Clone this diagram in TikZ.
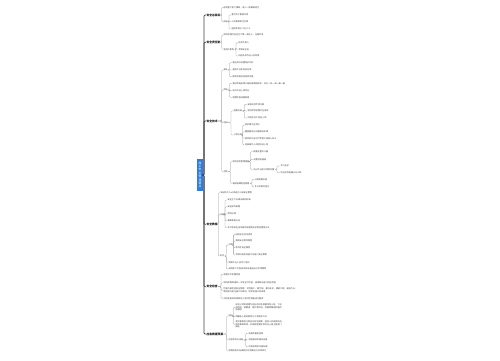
\documentclass[tikz,border=0pt]{standalone}
\usepackage{fontspec}
\newfontfamily\cjk{Noto Sans CJK SC}
\definecolor{rootblue}{HTML}{2F7DE1}
\begin{document}
\begin{tikzpicture}[x=1pt,y=-1pt,
    every node/.style={inner sep=0.3pt,anchor=west,text=black!75,
      font=\cjk\fontsize{2.1}{2.3}\selectfont},
    topic/.style={text=black!90,font=\cjk\bfseries\fontsize{2.8}{3.2}\selectfont},
    rootbox/.style={fill=rootblue,text=white,align=center,
      minimum width=5.8pt,minimum height=32pt,inner sep=0pt,
      font=\cjk\fontsize{2.8}{3.4}\selectfont},
    trunk/.style={draw=black!75,line width=0.7pt,rounded corners=1pt},
    link/.style={draw=black!40,line width=0.3pt,rounded corners=1pt}]
  \useasboundingbox (0,0) rectangle (500,360);
  \node[rootbox,anchor=center] (root) at (200,175) {施\\工\\安\\全\\管\\理\\要\\点};
  \coordinate (root-b) at (204,175);
  \draw
    (206,15) node[topic] (t1){安全总目标}
    (223,7.3) node (t1-1){杜绝重大伤亡事故，减少一般事故发生}
    (223,21.7) node (t1-2){指标}
    (231,15) node (t1-2-1){重大伤亡事故为零}
    (231,21.7) node (t1-2-2){火灾事故发生为零}
    (231,29) node (t1-2-3){轻伤率低于千分之三}
    (206,42.3) node[topic] (t2){安全责任制}
    (223,35) node (t2-1){项目经理为安全生产第一责任人，全面负责}
    (223,49.3) node (t2-2){各岗位职责}
    (238,42.7) node (t2-2-1){技术负责人}
    (238,49.3) node (t2-2-2){专职安全员}
    (238,56) node (t2-2-3){班组长及作业人员职责}
    (206,121) node[topic] (t3){安全技术}
    (223,70) node (t3-1){高处}
    (232,62.7) node (t3-1-1){临边洞口设置防护栏杆}
    (232,70) node (t3-1-2){高处作业系好安全带}
    (232,76.7) node (t3-1-3){脚手架搭设经验收合格}
    (223,90) node (t3-2){用电}
    (232,83.3) node (t3-2-1){临时用电采用三级配电两级保护，实行一机一闸一漏一箱}
    (232,90.7) node (t3-2-2){电工持证上岗作业}
    (232,97.3) node (t3-2-3){定期检查线路绝缘}
    (223,122.5) node (t3-3){机械}
    (233,111) node (t3-3-1){起重机械}
    (247,104.3) node (t3-3-1-1){安装拆除专项方案}
    (247,111) node (t3-3-1-2){限位保险装置齐全有效}
    (247,118) node (t3-3-1-3){司机信号工持证上岗}
    (233,135) node (t3-3-2){小型机具}
    (244.5,125) node (t3-3-2-1){防护罩齐全完好}
    (244.5,131.7) node (t3-3-2-2){圆盘锯设分料器和防护罩}
    (244.5,138.3) node (t3-3-2-3){搅拌机作业时严禁将工具伸入料斗}
    (244.5,145) node (t3-3-2-4){机械操作人员经培训上岗}
    (223,171.7) node (t3-4){消防}
    (232,161.7) node (t3-4-1){现场消防管理措施}
    (253,151.7) node (t3-4-1-1){配备足量灭火器}
    (253,159.3) node (t3-4-1-2){设置消防通道}
    (253,169.3) node (t3-4-1-3){动火作业执行审批制度}
    (280,166) node (t3-4-1-3-1){专人监护}
    (280,172.7) node (t3-4-1-3-2){作业后检查确认无火种}
    (232,183.3) node (t3-4-2){易燃易爆物品管理}
    (254,179.3) node (t3-4-2-1){分类隔离存放}
    (254,186.7) node (t3-4-2-2){专人保管并登记}
    (206,224.3) node[topic] (t4){安全教育}
    (220,192.7) node (t4-1){新进场工人必须进行三级安全教育}
    (219.5,214.3) node (t4-2){内容}
    (227,200) node (t4-2-1){安全生产法律法规和标准}
    (227,206.7) node (t4-2-2){安全操作规程}
    (227,214) node (t4-2-3){劳动纪律}
    (227,220.7) node (t4-2-4){事故案例分析}
    (227,227.7) node (t4-2-5){本工种安全技术操作规程及防护用品使用方法}
    (219.5,256) node (t4-3){形式}
    (228,245) node (t4-3-1){日常}
    (235,234.3) node (t4-3-1-1){班前安全活动讲话}
    (235,241) node (t4-3-1-2){每周安全例会制度}
    (235,247.7) node (t4-3-1-3){季节性安全教育}
    (235,255) node (t4-3-1-4){节假日前后及复工前进行安全教育}
    (228,262.3) node (t4-3-2){特种作业人员专门培训}
    (228,269) node (t4-3-3){采用新工艺新技术新设备前进行专项教育}
    (206,286.7) node[topic] (t5){安全检查}
    (223,274.3) node (t5-1){定期与不定期检查}
    (223,282.7) node (t5-2){项目部每周组织一次安全大检查，班组每天进行班前检查}
    (223,290.3) node[align=left] (t5-3){检查内容包括安全管理、文明施工、脚手架、基坑支护、模板工程、高处作业、\\物料提升机与施工升降机、塔吊及施工机具等}
    (223,298.3) node (t5-4){对检查发现的隐患定人定时定措施进行整改}
    (206,334) node[topic] (t6){应急救援预案}
    (228,316) node (t6-1){组织}
    (235,307.3) node[align=left] (t6-1-1){成立以项目经理为组长的应急救援领导小组，下设\\抢险组、疏散组、医疗救护组、后勤保障组和善后\\处理组}
    (235,316.7) node (t6-1-2){明确各小组的职责分工及联系方式}
    (235,324.2) node[align=left] (t6-1-3){发生事故后立即启动应急预案，组织人员抢救伤员，\\保护事故现场，并按规定程序及时向上级主管部门\\报告}
    (228,340) node (t6-2){应急物资与设备}
    (248,333.3) node (t6-2-1){急救药箱及担架}
    (248,340) node (t6-2-2){消防器材及通讯设备}
    (248,346.7) node (t6-2-3){应急照明及交通车辆}
    (228,351) node (t6-3){定期组织应急演练并对预案进行评审修订};
  \begin{scope}[trunk]
    \draw (root.east) -- (root-b) |- (t1.west);
    \draw (root.east) -- (root-b) |- (t2.west);
    \draw (root.east) -- (root-b) |- (t3.west);
    \draw (root.east) -- (root-b) |- (t4.west);
    \draw (root.east) -- (root-b) |- (t5.west);
    \draw (root.east) -- (root-b) |- (t6.west);
  \end{scope}
  \coordinate (t1-b) at (221.8,15);
  \coordinate (t1-2-b) at (229,21.7);
  \coordinate (t2-b) at (221.8,42.3);
  \coordinate (t2-2-b) at (236,49.3);
  \coordinate (t3-b) at (221.7,121);
  \coordinate (t3-1-b) at (229.5,70);
  \coordinate (t3-2-b) at (229.5,90);
  \coordinate (t3-3-b) at (231,122.5);
  \coordinate (t3-3-1-b) at (244.3,111);
  \coordinate (t3-3-2-b) at (242.8,135);
  \coordinate (t3-4-b) at (230.5,171.7);
  \coordinate (t3-4-1-b) at (250.5,161.7);
  \coordinate (t3-4-1-3-b) at (277,169.3);
  \coordinate (t3-4-2-b) at (252,183.3);
  \coordinate (t4-b) at (218.3,224.3);
  \coordinate (t4-2-b) at (225,214.3);
  \coordinate (t4-3-b) at (226.3,256);
  \coordinate (t4-3-1-b) at (233.6,245);
  \coordinate (t5-b) at (221,286.7);
  \coordinate (t6-b) at (226.5,334);
  \coordinate (t6-1-b) at (233.3,316);
  \coordinate (t6-2-b) at (245.8,340);
  \begin{scope}[link]
    \draw (t1.east) -- (t1-b) |- (t1-1.west);
    \draw (t1.east) -- (t1-b) |- (t1-2.west);
    \draw (t1-2.east) -- (t1-2-b) |- (t1-2-1.west);
    \draw (t1-2.east) -- (t1-2-b) |- (t1-2-2.west);
    \draw (t1-2.east) -- (t1-2-b) |- (t1-2-3.west);
    \draw (t2.east) -- (t2-b) |- (t2-1.west);
    \draw (t2.east) -- (t2-b) |- (t2-2.west);
    \draw (t2-2.east) -- (t2-2-b) |- (t2-2-1.west);
    \draw (t2-2.east) -- (t2-2-b) |- (t2-2-2.west);
    \draw (t2-2.east) -- (t2-2-b) |- (t2-2-3.west);
    \draw (t3.east) -- (t3-b) |- (t3-1.west);
    \draw (t3.east) -- (t3-b) |- (t3-2.west);
    \draw (t3.east) -- (t3-b) |- (t3-3.west);
    \draw (t3.east) -- (t3-b) |- (t3-4.west);
    \draw (t3-1.east) -- (t3-1-b) |- (t3-1-1.west);
    \draw (t3-1.east) -- (t3-1-b) |- (t3-1-2.west);
    \draw (t3-1.east) -- (t3-1-b) |- (t3-1-3.west);
    \draw (t3-2.east) -- (t3-2-b) |- (t3-2-1.west);
    \draw (t3-2.east) -- (t3-2-b) |- (t3-2-2.west);
    \draw (t3-2.east) -- (t3-2-b) |- (t3-2-3.west);
    \draw (t3-3.east) -- (t3-3-b) |- (t3-3-1.west);
    \draw (t3-3.east) -- (t3-3-b) |- (t3-3-2.west);
    \draw (t3-3-1.east) -- (t3-3-1-b) |- (t3-3-1-1.west);
    \draw (t3-3-1.east) -- (t3-3-1-b) |- (t3-3-1-2.west);
    \draw (t3-3-1.east) -- (t3-3-1-b) |- (t3-3-1-3.west);
    \draw (t3-3-2.east) -- (t3-3-2-b) |- (t3-3-2-1.west);
    \draw (t3-3-2.east) -- (t3-3-2-b) |- (t3-3-2-2.west);
    \draw (t3-3-2.east) -- (t3-3-2-b) |- (t3-3-2-3.west);
    \draw (t3-3-2.east) -- (t3-3-2-b) |- (t3-3-2-4.west);
    \draw (t3-4.east) -- (t3-4-b) |- (t3-4-1.west);
    \draw (t3-4.east) -- (t3-4-b) |- (t3-4-2.west);
    \draw (t3-4-1.east) -- (t3-4-1-b) |- (t3-4-1-1.west);
    \draw (t3-4-1.east) -- (t3-4-1-b) |- (t3-4-1-2.west);
    \draw (t3-4-1.east) -- (t3-4-1-b) |- (t3-4-1-3.west);
    \draw (t3-4-1-3.east) -- (t3-4-1-3-b) |- (t3-4-1-3-1.west);
    \draw (t3-4-1-3.east) -- (t3-4-1-3-b) |- (t3-4-1-3-2.west);
    \draw (t3-4-2.east) -- (t3-4-2-b) |- (t3-4-2-1.west);
    \draw (t3-4-2.east) -- (t3-4-2-b) |- (t3-4-2-2.west);
    \draw (t4.east) -- (t4-b) |- (t4-1.west);
    \draw (t4.east) -- (t4-b) |- (t4-2.west);
    \draw (t4.east) -- (t4-b) |- (t4-3.west);
    \draw (t4-2.east) -- (t4-2-b) |- (t4-2-1.west);
    \draw (t4-2.east) -- (t4-2-b) |- (t4-2-2.west);
    \draw (t4-2.east) -- (t4-2-b) |- (t4-2-3.west);
    \draw (t4-2.east) -- (t4-2-b) |- (t4-2-4.west);
    \draw (t4-2.east) -- (t4-2-b) |- (t4-2-5.west);
    \draw (t4-3.east) -- (t4-3-b) |- (t4-3-1.west);
    \draw (t4-3.east) -- (t4-3-b) |- (t4-3-2.west);
    \draw (t4-3.east) -- (t4-3-b) |- (t4-3-3.west);
    \draw (t4-3-1.east) -- (t4-3-1-b) |- (t4-3-1-1.west);
    \draw (t4-3-1.east) -- (t4-3-1-b) |- (t4-3-1-2.west);
    \draw (t4-3-1.east) -- (t4-3-1-b) |- (t4-3-1-3.west);
    \draw (t4-3-1.east) -- (t4-3-1-b) |- (t4-3-1-4.west);
    \draw (t5.east) -- (t5-b) |- (t5-1.west);
    \draw (t5.east) -- (t5-b) |- (t5-2.west);
    \draw (t5.east) -- (t5-b) |- (t5-3.west);
    \draw (t5.east) -- (t5-b) |- (t5-4.west);
    \draw (t6.east) -- (t6-b) |- (t6-1.west);
    \draw (t6.east) -- (t6-b) |- (t6-2.west);
    \draw (t6.east) -- (t6-b) |- (t6-3.west);
    \draw (t6-1.east) -- (t6-1-b) |- (t6-1-1.west);
    \draw (t6-1.east) -- (t6-1-b) |- (t6-1-2.west);
    \draw (t6-1.east) -- (t6-1-b) |- (t6-1-3.west);
    \draw (t6-2.east) -- (t6-2-b) |- (t6-2-1.west);
    \draw (t6-2.east) -- (t6-2-b) |- (t6-2-2.west);
    \draw (t6-2.east) -- (t6-2-b) |- (t6-2-3.west);
  \end{scope}
\end{tikzpicture}
\end{document}
